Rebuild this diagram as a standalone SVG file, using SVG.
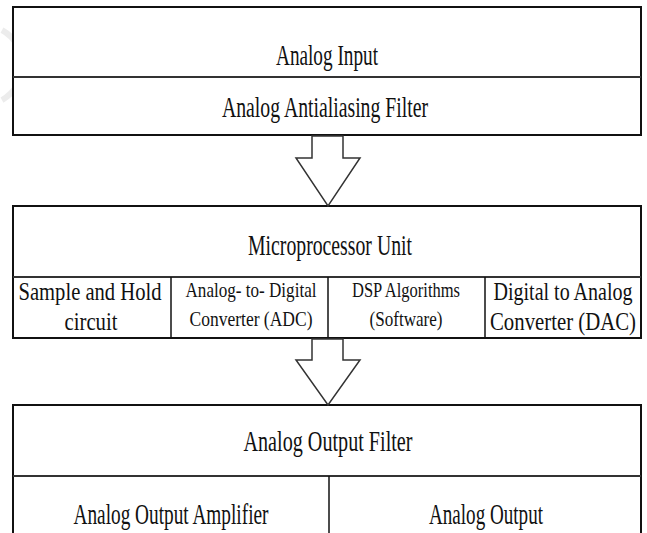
<svg xmlns="http://www.w3.org/2000/svg" width="647" height="533" viewBox="0 0 647 533">
<style>
.box{fill:#fff;stroke:#111;stroke-width:2}
.div{stroke:#333;stroke-width:2;fill:none}
.vdiv{stroke:#111;stroke-width:1.5;fill:none}
.arrow{fill:#fff;stroke:#333;stroke-width:1.5;stroke-linejoin:miter}
text{font-family:'Liberation Serif','DejaVu Serif',serif;fill:#111;text-anchor:middle}
.big{font-size:29px}
.mid{font-size:26px}
.sm{font-size:22px}
</style>
<rect width="647" height="533" fill="#fff"/>
<path d="M2,30 A40,40 0 0 1 2,100" fill="none" stroke="#ececec" stroke-width="6"/>
<g id="input-block">
<rect class="box" x="13" y="7" width="628" height="128"/>
<line class="div" x1="13" y1="77" x2="641" y2="77"/>
<g id="analog-input"><text class="big" x="327" y="65" textLength="102" lengthAdjust="spacingAndGlyphs">Analog Input</text></g>
<g id="antialiasing-filter"><text class="big" x="325" y="117" textLength="206" lengthAdjust="spacingAndGlyphs">Analog Antialiasing Filter</text></g>
</g>
<g id="microprocessor-block">
<rect class="box" x="13" y="206" width="628" height="132"/>
<line class="div" x1="13" y1="277" x2="641" y2="277"/>
<line class="vdiv" x1="171" y1="277" x2="171" y2="338"/>
<line class="vdiv" x1="328" y1="277" x2="328" y2="338"/>
<line class="vdiv" x1="485" y1="277" x2="485" y2="338"/>
<g id="microprocessor-unit"><text class="big" x="330" y="255" textLength="164" lengthAdjust="spacingAndGlyphs">Microprocessor Unit</text></g>
<g id="sample-hold"><text class="mid" x="90" y="300" textLength="143" lengthAdjust="spacingAndGlyphs">Sample and Hold</text><text class="mid" x="91" y="330" textLength="53" lengthAdjust="spacingAndGlyphs">circuit</text></g>
<g id="adc"><text class="sm" x="251" y="297" textLength="131" lengthAdjust="spacingAndGlyphs">Analog- to- Digital</text><text class="sm" x="251" y="326" textLength="123" lengthAdjust="spacingAndGlyphs">Converter (ADC)</text></g>
<g id="dsp"><text class="sm" x="406" y="297" textLength="108" lengthAdjust="spacingAndGlyphs">DSP Algorithms</text><text class="sm" x="406" y="326" textLength="73" lengthAdjust="spacingAndGlyphs">(Software)</text></g>
<g id="dac"><text class="mid" transform="translate(563,300) scale(0.77,1)">Digital to Analog</text><text class="mid" transform="translate(563,330) scale(0.8,1)">Converter (DAC)</text></g>
</g>
<g id="output-block">
<path class="box" d="M13,533 V405 H641 V533"/>
<line class="div" x1="13" y1="476" x2="641" y2="476"/>
<line class="vdiv" x1="329" y1="476" x2="329" y2="533"/>
<g id="output-filter"><text class="big" x="328" y="451" textLength="169" lengthAdjust="spacingAndGlyphs">Analog Output Filter</text></g>
<g id="output-amplifier"><text class="big" x="171" y="524" textLength="195" lengthAdjust="spacingAndGlyphs">Analog Output Amplifier</text></g>
<g id="analog-output"><text class="big" x="486" y="524" textLength="114" lengthAdjust="spacingAndGlyphs">Analog Output</text></g>
</g>
<g id="connectors">
<polygon class="arrow" points="312,136 343,136 343,158 360,158 328,206 296,158 312,158"/>
<polygon class="arrow" points="312,339 343,339 343,360 360,360 328,405 296,360 312,360"/>
</g>
</svg>
